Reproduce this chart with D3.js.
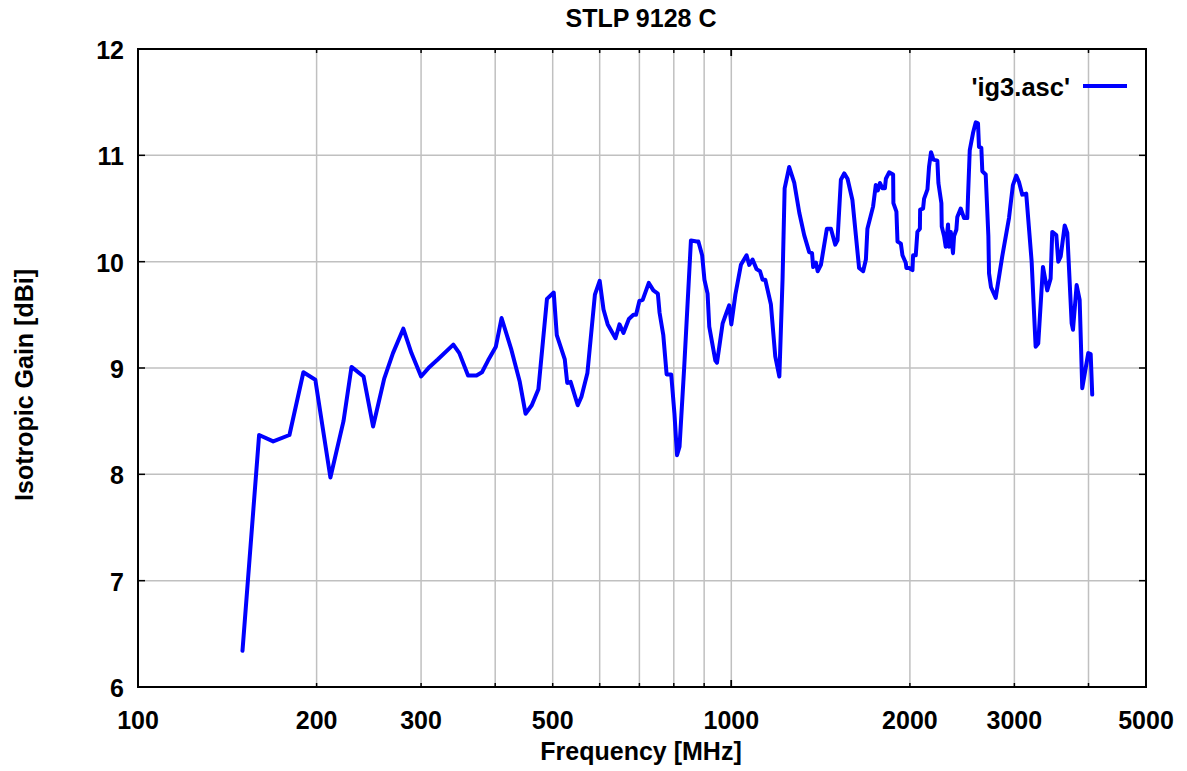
<!DOCTYPE html>
<html>
<head>
<meta charset="utf-8">
<script src="https://cdn.jsdelivr.net/npm/d3@7"></script>
<style>
	body { margin: 0; background: #fff; }
	svg text { font-family: "Liberation Sans", Arial, sans-serif; font-weight: bold; fill: #000; }
</style>
</head>
<body>
<svg id="gain-plot" width="1187" height="771" viewBox="0 0 1187 771"></svg>
<script>

const freqs = [
	150, 160, 169, 180, 190, 199, 211, 222, 229, 240,
	249, 260, 269, 280, 289, 300, 310, 320, 340, 348,
	360, 372, 380, 389, 401, 410, 426, 440, 450, 461,
	473, 489, 502, 508, 524, 529, 536, 551, 559, 572,
	589, 600, 609, 619, 638, 648, 658, 672, 684, 691,
	700, 709, 726, 739, 752, 757, 768, 778, 792, 802,
	810, 818, 833, 855, 874, 880, 893, 901, 912, 918,
	940, 946, 967, 980, 992, 1000, 1016, 1038, 1061, 1072,
	1086, 1103, 1118, 1129, 1141, 1166, 1186, 1205, 1220, 1230,
	1252, 1277, 1302, 1327, 1353, 1368, 1374, 1389, 1398, 1416,
	1449, 1472, 1497, 1510, 1530, 1550, 1570, 1600, 1642, 1668,
	1686, 1696, 1734, 1752, 1766, 1780, 1798, 1815, 1822, 1845,
	1874, 1876, 1898, 1906, 1931, 1943, 1968, 1973, 1994, 2020,
	2025, 2046, 2059, 2079, 2081, 2105, 2113, 2141, 2154, 2171,
	2191, 2225, 2234, 2260, 2263, 2284, 2298, 2319, 2328, 2344,
	2364, 2374, 2395, 2404, 2436, 2468, 2499, 2506, 2523, 2555,
	2582, 2605, 2615, 2639, 2649, 2684, 2712, 2719, 2740, 2790,
	2862, 2938, 2983, 3022, 3054, 3093, 3141, 3208, 3258, 3291,
	3352, 3408, 3453, 3475, 3530, 3557, 3591, 3647, 3684, 3747,
	3766, 3820, 3865, 3904, 3996, 4034, 4058
];

const gains = [
	6.34, 8.37, 8.31, 8.37, 8.96, 8.89, 7.97, 8.50, 9.01, 8.92,
	8.45, 8.90, 9.14, 9.37, 9.14, 8.92, 9.01, 9.08, 9.22, 9.14,
	8.93, 8.93, 8.96, 9.07, 9.20, 9.47, 9.17, 8.87, 8.57, 8.65,
	8.80, 9.65, 9.71, 9.31, 9.08, 8.86, 8.87, 8.65, 8.73, 8.95,
	9.69, 9.82, 9.55, 9.41, 9.28, 9.41, 9.33, 9.46, 9.50, 9.50,
	9.63, 9.64, 9.80, 9.73, 9.70, 9.52, 9.31, 8.94, 8.94, 8.57,
	8.18, 8.26, 9.01, 10.20, 10.19, 10.19, 10.06, 9.83, 9.70, 9.39,
	9.07, 9.05, 9.42, 9.51, 9.59, 9.41, 9.69, 9.97, 10.06, 9.97,
	10.02, 9.93, 9.91, 9.83, 9.83, 9.60, 9.11, 8.92, 9.83, 10.69,
	10.89, 10.74, 10.46, 10.25, 10.09, 10.08, 9.95, 9.99, 9.91, 9.97,
	10.31, 10.31, 10.16, 10.20, 10.77, 10.83, 10.78, 10.58, 9.94, 9.91,
	10.02, 10.31, 10.52, 10.72, 10.67, 10.74, 10.69, 10.69, 10.78, 10.84,
	10.82, 10.55, 10.47, 10.19, 10.17, 10.06, 9.99, 9.94, 9.94, 9.92,
	10.06, 10.06, 10.28, 10.31, 10.49, 10.50, 10.59, 10.68, 10.89, 11.03,
	10.96, 10.95, 10.74, 10.55, 10.33, 10.24, 10.14, 10.35, 10.14, 10.28,
	10.08, 10.24, 10.30, 10.42, 10.50, 10.41, 10.41, 10.61, 11.05, 11.21,
	11.31, 11.30, 11.08, 11.07, 10.85, 10.82, 10.24, 9.89, 9.76, 9.66,
	10.05, 10.41, 10.72, 10.81, 10.75, 10.63, 10.64, 10.00, 9.20, 9.23,
	9.95, 9.73, 9.84, 10.28, 10.25, 10.00, 10.05, 10.34, 10.27, 9.42,
	9.36, 9.78, 9.64, 8.81, 9.14, 9.13, 8.75
];

const xDomain = [100, 5000];
const yDomain = [6, 12];
const xGrid = [200, 300, 400, 500, 600, 700, 800, 900, 1000, 2000, 3000, 4000];
const xMajorTicks = [100, 1000];
const xLabels = [100, 200, 300, 500, 1000, 2000, 3000, 5000];
const yTicks = [6, 7, 8, 9, 10, 11, 12];

const titleText = "STLP 9128 C";
const xTitle = "Frequency [MHz]";
const yTitle = "Isotropic Gain [dBi]";
const seriesName = "'ig3.asc'";

class GainPlot {

	constructor(svg_element_id) {
		this.svg = d3.select('#' + svg_element_id);

		const margin = {left: 138, top: 49, right: 41, bottom: 84};
		const svg_viewbox = this.svg.node().viewBox.animVal;
		const width = svg_viewbox.width - margin.left - margin.right;
		const height = svg_viewbox.height - margin.top - margin.bottom;

		const x = d3.scaleLog().domain(xDomain).range([0, width]);
		const y = d3.scaleLinear().domain(yDomain).range([height, 0]);

		const plot = this.svg.append('g')
			.attr('transform', 'translate(' + margin.left + ',' + margin.top + ')');

		// grid
		const grid = plot.append('g')
			.style('stroke', '#c0c0c0')
			.style('stroke-width', '1.5px');

		grid.selectAll('.vgrid')
			.data(xGrid)
			.enter().append('line')
			.attr('x1', d => x(d)).attr('x2', d => x(d))
			.attr('y1', 0).attr('y2', height);

		grid.selectAll('.hgrid')
			.data(yTicks.filter(d => d > yDomain[0] && d < yDomain[1]))
			.enter().append('line')
			.attr('x1', 0).attr('x2', width)
			.attr('y1', d => y(d)).attr('y2', d => y(d));

		// inward tick marks on all four sides (gnuplot style)
		const ticks = plot.append('g')
			.style('stroke', '#000')
			.style('stroke-width', '1.5px');

		const xTickLen = d => xMajorTicks.includes(d) ? 7 : 4;
		const xAll = xGrid.concat(xMajorTicks);

		ticks.selectAll('.xb')
			.data(xAll)
			.enter().append('line')
			.attr('x1', d => x(d)).attr('x2', d => x(d))
			.attr('y1', height).attr('y2', d => height - xTickLen(d));

		ticks.selectAll('.xt')
			.data(xAll)
			.enter().append('line')
			.attr('x1', d => x(d)).attr('x2', d => x(d))
			.attr('y1', 0).attr('y2', d => xTickLen(d));

		ticks.selectAll('.yl')
			.data(yTicks)
			.enter().append('line')
			.attr('x1', 0).attr('x2', 7)
			.attr('y1', d => y(d)).attr('y2', d => y(d));

		ticks.selectAll('.yr')
			.data(yTicks)
			.enter().append('line')
			.attr('x1', width).attr('x2', width - 7)
			.attr('y1', d => y(d)).attr('y2', d => y(d));

		// tick labels
		plot.selectAll('.xlabel')
			.data(xLabels)
			.enter().append('text')
			.attr('x', d => x(d))
			.attr('y', height + 42)
			.attr('text-anchor', 'middle')
			.style('font-size', '25px')
			.text(d => d);

		plot.selectAll('.ylabel')
			.data(yTicks)
			.enter().append('text')
			.attr('x', -14)
			.attr('y', d => y(d) + 10)
			.attr('text-anchor', 'end')
			.style('font-size', '25px')
			.text(d => d);

		// the curve
		const line = d3.line()
			.x((d, i) => x(freqs[i]))
			.y(d => y(d));

		plot.append('path')
			.datum(gains)
			.attr('d', line)
			.style('fill', 'none')
			.style('stroke', '#0000ff')
			.style('stroke-width', '4px')
			.style('stroke-linejoin', 'round')
			.style('stroke-linecap', 'round');

		// frame
		plot.append('rect')
			.attr('width', width)
			.attr('height', height)
			.style('fill', 'none')
			.style('stroke', '#000')
			.style('stroke-width', '2px');

		// legend
		plot.append('text')
			.attr('x', 932)
			.attr('y', 47)
			.attr('text-anchor', 'end')
			.style('font-size', '25.5px')
			.text(seriesName);

		plot.append('line')
			.attr('x1', 945).attr('x2', 989)
			.attr('y1', 37).attr('y2', 37)
			.style('stroke', '#0000ff')
			.style('stroke-width', '4px');

		// titles
		this.svg.append('text')
			.attr('x', 641)
			.attr('y', 27)
			.attr('text-anchor', 'middle')
			.style('font-size', '25px')
			.text(titleText);

		this.svg.append('text')
			.attr('x', 641)
			.attr('y', 760)
			.attr('text-anchor', 'middle')
			.style('font-size', '25px')
			.text(xTitle);

		this.svg.append('text')
			.attr('transform', 'translate(33,385) rotate(-90)')
			.attr('text-anchor', 'middle')
			.style('font-size', '25px')
			.text(yTitle);
	}
}

plot_object = new GainPlot('gain-plot');

</script>
</body>
</html>
